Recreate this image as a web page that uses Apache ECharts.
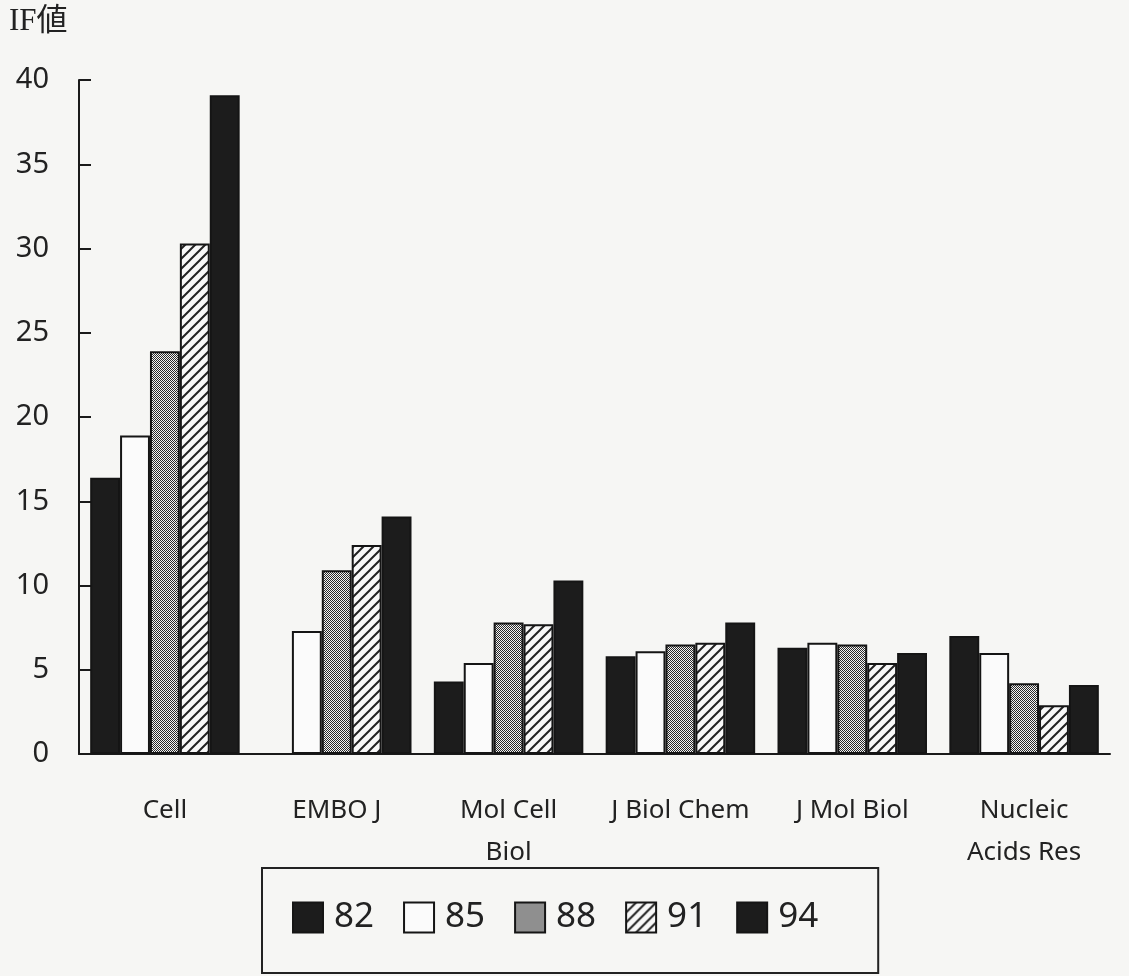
<!DOCTYPE html>
<html>
<head>
<meta charset="utf-8">
<title>IF値</title>
<script src="https://cdn.jsdelivr.net/npm/echarts@6.0.0/dist/echarts.min.js"></script>
<style>
  html, body { margin: 0; padding: 0; background: #f6f6f4; }
  #main { width: 1129px; height: 976px; }
</style>
</head>
<body>
<div id="main"></div>
<script>
const categories = ['Cell', 'EMBO J', 'Mol Cell\nBiol', 'J Biol Chem', 'J Mol Biol', 'Nucleic\nAcids Res'];
const years = ['82', '85', '88', '91', '94'];
const if82 = [16.4, null, 4.3, 5.8, 6.3, 7.0];
const if85 = [18.9, 7.3, 5.4, 6.1, 6.6, 6.0];
const if88 = [23.9, 10.9, 7.8, 6.5, 6.5, 4.2];
const if91 = [30.3, 12.4, 7.7, 6.6, 5.4, 2.9];
const if94 = [39.1, 14.1, 10.3, 7.8, 6.0, 4.1];

// fill patterns like the printed chart
function dotPattern() {
  const c = document.createElement('canvas');
  c.width = 2; c.height = 2;
  const ctx = c.getContext('2d');
  ctx.fillStyle = '#f4f4f4';
  ctx.fillRect(0, 0, 2, 2);
  ctx.fillStyle = '#2a2a2a';
  ctx.fillRect(0, 0, 1, 1);
  ctx.fillRect(1, 1, 1, 1);
  return c;
}
function hatchPattern() {
  const c = document.createElement('canvas');
  c.width = 10; c.height = 10;
  const ctx = c.getContext('2d');
  ctx.fillStyle = '#f8f8f8';
  ctx.fillRect(0, 0, 10, 10);
  ctx.strokeStyle = '#222';
  ctx.lineWidth = 2;
  ctx.beginPath();
  ctx.moveTo(-5, 5); ctx.lineTo(5, -5);
  ctx.moveTo(0, 10); ctx.lineTo(10, 0);
  ctx.moveTo(5, 15); ctx.lineTo(15, 5);
  ctx.stroke();
  return c;
}

const fills = [
  '#1c1c1c',
  '#fbfbfb',
  { image: dotPattern(), repeat: 'repeat' },
  { image: hatchPattern(), repeat: 'repeat' },
  '#1c1c1c'
];
const values = [if82, if85, if88, if91, if94];

const chart = echarts.init(document.getElementById('main'));
const font = 'Noto Sans, DejaVu Sans, sans-serif';

const option = {
  backgroundColor: '#f6f6f4',
  animation: false,
  graphic: [{
    type: 'text',
    left: 9,
    top: 6,
    style: {
      text: 'IF値',
      font: '31px "Liberation Serif", "Noto Sans CJK JP", serif',
      fill: '#222'
    }
  }],
  grid: {
    left: 79,
    right: 19,
    top: 80,
    bottom: 222,
    outerBoundsMode: 'none'
  },
  legend: {
    left: 262,
    top: 868,
    orient: 'horizontal',
    icon: 'rect',
    itemWidth: 30,
    itemHeight: 30,
    itemGap: 29,
    padding: [32, 60, 38, 30],
    borderColor: '#222',
    borderWidth: 2,
    textStyle: { fontSize: 35, color: '#222', fontFamily: font, padding: [0, 0, 0, 6] },
    data: years
  },
  xAxis: {
    type: 'category',
    data: categories,
    axisLine: { lineStyle: { color: '#1a1a1a', width: 2 } },
    axisTick: { inside: true, length: 10, lineStyle: { color: '#1a1a1a', width: 2 } },
    axisLabel: {
      fontSize: 26,
      lineHeight: 42,
      margin: 36,
      color: '#222',
      fontFamily: font,
      interval: 0
    }
  },
  yAxis: {
    type: 'value',
    min: 0,
    max: 40,
    interval: 5,
    splitLine: { show: false },
    axisLine: { show: true, lineStyle: { color: '#1a1a1a', width: 2 } },
    axisTick: { show: true, inside: true, length: 12, lineStyle: { color: '#1a1a1a', width: 2 } },
    axisLabel: { fontSize: 29, color: '#222', margin: 30, fontFamily: font }
  },
  series: years.map(function (y, i) {
    return {
      name: y,
      type: 'bar',
      data: values[i],
      barGap: '0%',
      barCategoryGap: '13%',
      itemStyle: {
        color: fills[i],
        borderColor: '#151515',
        borderWidth: 2
      }
    };
  })
};

chart.setOption(option);
</script>
</body>
</html>
